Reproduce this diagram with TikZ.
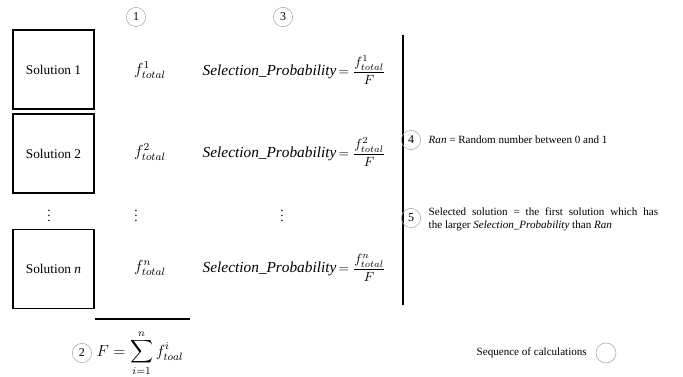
\documentclass[tikz,border=0pt]{standalone}
\usepackage{amsmath}
\usepackage{fontspec}
\setmainfont{Liberation Serif}

\newcommand*{\selprob}{{\fontsize{11.5}{14}\selectfont$\mathit{Selection\_Probability}$}}

\begin{document}
\begin{tikzpicture}
[
	x=0.75pt,
	y=-0.75pt,
	solbox/.style={draw,line width=1.1pt,minimum width=61pt,minimum height=59pt,inner sep=0pt},
	stepmark/.style={circle,draw=gray!70,inner sep=0pt,minimum size=14.5pt,font=\small},
	note/.style={anchor=west,font=\fontsize{8.3}{10}\selectfont}
]
	\useasboundingbox (0,0) rectangle (683,376);

	% solutions
	\node[solbox] (sol1) at (53.5,69.5) {Solution 1};
	\node[solbox] (sol2) at (53.5,153.5) {Solution 2};
	\node[solbox] (soln) at (53.5,269) {Solution \textit{n}};

	% fitness of each solution
	\node[stepmark] (s1) at (136,17) {1};
	\node[font=\large] (f1) at (150,70) {$f^{1}_{total}$};
	\node[font=\large] (f2) at (150,152) {$f^{2}_{total}$};
	\node[font=\large] (fn) at (150,268) {$f^{n}_{total}$};

	% selection probabilities
	\node[stepmark] (s3) at (283,17) {3};
	\node[anchor=west] (p1) at (198,70) {\selprob\,$=\dfrac{f^{1}_{total}}{F}$};
	\node[anchor=west] (p2) at (198,152) {\selprob\,$=\dfrac{f^{2}_{total}}{F}$};
	\node[anchor=west] (pn) at (198,268) {\selprob\,$=\dfrac{f^{n}_{total}}{F}$};

	% dots
	\node (d1) at (49,212) {$\vdots$};
	\node (d2) at (136,212) {$\vdots$};
	\node (d3) at (282,212) {$\vdots$};

	% sum
	\draw[thick] (95,319) -- (190,319);
	\node[stepmark] (s2) at (82,353) {2};
	\node[anchor=west,font=\large] (sum) at (s2.east) {$F=\displaystyle\sum_{i=1}^{n} f^{i}_{toal}$};

	% separator
	\draw[line width=1pt] (403,35) -- (403,305);

	% random number and choice
	\node[stepmark] (s4) at (411,140) {4};
	\node[note] (t4) at (424,140) {\textit{Ran} = Random number between 0 and 1};
	\node[stepmark] (s5) at (411,218) {5};
	\node[note,text width=172pt,align=justify] (t5) at (424,219) {Selected solution = the first solution which has\linebreak the larger \textit{Selection\_Probability} than \textit{Ran}};

	% legend
	\node[note] (leg) at (472,353) {Sequence of calculations};
	\node[stepmark,minimum size=15pt] (legc) at (606,353) {};

\end{tikzpicture}
\end{document}
